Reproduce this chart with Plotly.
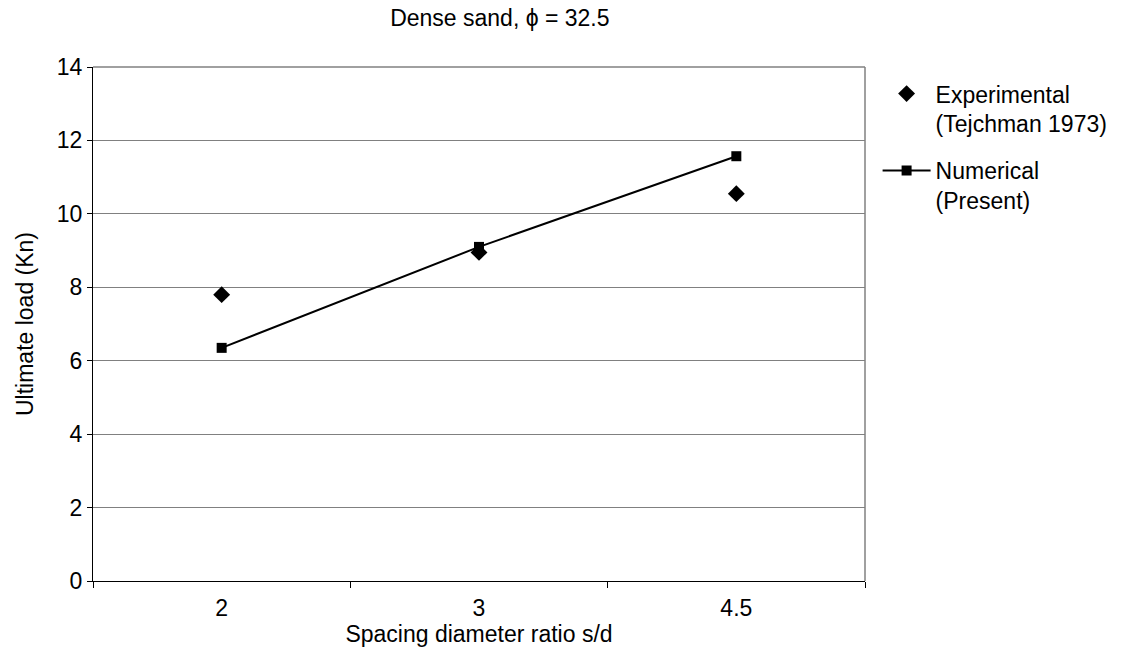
import plotly.graph_objects as go

categories = ["2", "3", "4.5"]
experimental = [7.8, 8.95, 10.55]
numerical = [6.35, 9.1, 11.57]
y_ticks = [0, 2, 4, 6, 8, 10, 12, 14]

FONT = "Liberation Sans, Arial, sans-serif"

fig = go.Figure()
fig.add_trace(go.Scatter(
    x=categories, y=experimental, mode="markers",
    name="Experimental<br>(Tejchman 1973)", legendgroup="exp",
    marker=dict(symbol="diamond", size=13, color="black"),
))
fig.add_trace(go.Scatter(
    x=categories, y=numerical, mode="lines+markers",
    name="Numerical<br>(Present)", legendgroup="num",
    line=dict(color="black", width=2),
    marker=dict(symbol="square", size=10, color="black"),
))

fig.update_layout(
    width=1124, height=650,
    margin=dict(l=93, r=258, t=67, b=69),
    paper_bgcolor="white", plot_bgcolor="white",
    font=dict(family=FONT, size=23, color="black"),
    title=dict(text="Dense sand, ϕ = 32.5", x=0.527, xref="paper", xanchor="center",
               y=0.985, yref="container", yanchor="top",
               font=dict(family=FONT, size=23, color="black")),
    showlegend=True,
    legend=dict(x=1.015, xanchor="left", y=0.99, yanchor="top",
                valign="top", font=dict(family=FONT, size=23, color="black"),
                bgcolor="rgba(0,0,0,0)", itemwidth=48, tracegroupgap=14),
    xaxis=dict(type="category", categoryorder="array", categoryarray=categories,
               range=[-0.5, 2.5], showline=True, linecolor="black", linewidth=1,
               ticks="outside", tickson="boundaries", ticklen=6, tickcolor="black",
               ticklabelstandoff=6,
               showgrid=False, zeroline=False,
               title=dict(text="Spacing diameter ratio s/d", standoff=0,
                          font=dict(family=FONT, size=23)),
               tickfont=dict(family=FONT, size=23)),
    yaxis=dict(range=[0, 14], tickvals=y_ticks, showline=True, linecolor="black",
               linewidth=1, ticks="outside", ticklen=5, tickcolor="black",
               ticklabelstandoff=0,
               showgrid=True, gridcolor="#808080", gridwidth=1, zeroline=False,
               title=dict(text="Ultimate load (Kn)", standoff=16,
                          font=dict(family=FONT, size=23)),
               tickfont=dict(family=FONT, size=23)),
    shapes=[
        dict(type="line", xref="x domain", yref="y domain", x0=0, x1=1, y0=1, y1=1,
             line=dict(color="#808080", width=1.5)),
        dict(type="line", xref="x domain", yref="y domain", x0=1, x1=1, y0=0, y1=1,
             line=dict(color="#808080", width=1.5)),
    ],
)

fig.write_html("out.html")
